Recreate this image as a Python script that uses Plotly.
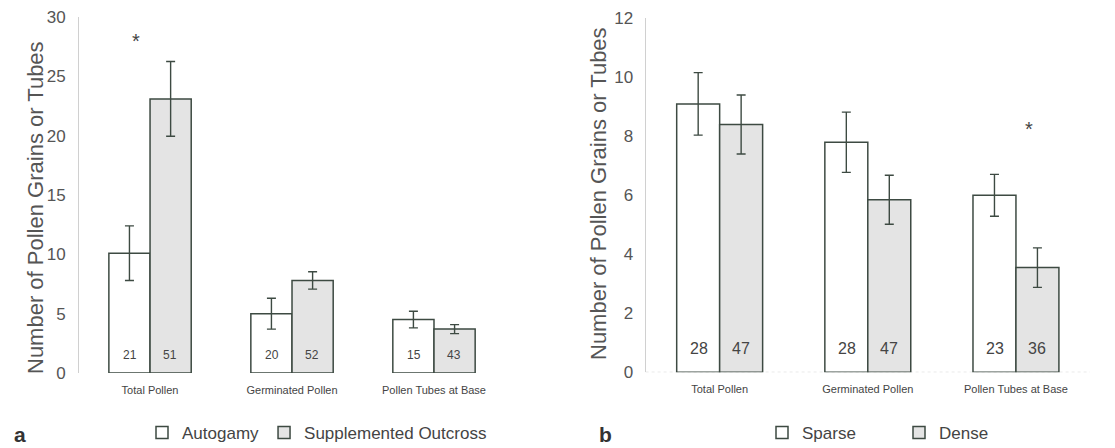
import plotly.graph_objects as go

# ---- data ----
cats = ["Total Pollen", "Germinated Pollen", "Pollen Tubes at Base"]

a_auto = [10.1, 5.0, 4.5]
a_auto_err = [2.3, 1.3, 0.7]
a_out = [23.1, 7.8, 3.7]
a_out_err = [3.15, 0.73, 0.38]
a_auto_n = [21, 20, 15]
a_out_n = [51, 52, 43]

b_sparse = [9.1, 7.8, 6.0]
b_sparse_err = [1.06, 1.02, 0.71]
b_dense = [8.4, 5.85, 3.55]
b_dense_err = [1.0, 0.83, 0.67]
b_sparse_n = [28, 28, 23]
b_dense_n = [47, 47, 36]

a_ticks = [0, 5, 10, 15, 20, 25, 30]
b_ticks = [0, 2, 4, 6, 8, 10, 12]

y_title = "Number of Pollen Grains or Tubes"

# ---- style ----
EDGE = "#3d4a42"
FILL2 = "#e4e4e4"
TXT = "#555555"
FONT = "Liberation Sans, Arial, sans-serif"

fig = go.Figure()

def add_bar(name, y, err, fill, xa, ya, legend):
    fig.add_trace(go.Bar(
        name=name, x=cats, y=y, xaxis=xa, yaxis=ya, legend=legend,
        marker=dict(color=fill, line=dict(color=EDGE, width=1.5)),
        error_y=dict(type="data", array=err, color=EDGE, thickness=1.4, width=4.5),
        hoverinfo="y+name",
    ))

add_bar("Autogamy", a_auto, a_auto_err, "white", "x", "y", "legend")
add_bar("Supplemented Outcross", a_out, a_out_err, FILL2, "x", "y", "legend")
add_bar("Sparse", b_sparse, b_sparse_err, "white", "x2", "y2", "legend2")
add_bar("Dense", b_dense, b_dense_err, FILL2, "x2", "y2", "legend2")

annotations = []
# sample sizes inside bars
for i, c in enumerate(cats):
    annotations.append(dict(x=c, y=1.5, xref="x", yref="y", text=str(a_auto_n[i]),
                            xshift=-20, showarrow=False, font=dict(size=12, color="#444")))
    annotations.append(dict(x=c, y=1.5, xref="x", yref="y", text=str(a_out_n[i]),
                            xshift=20, showarrow=False, font=dict(size=12, color="#444")))
    annotations.append(dict(x=c, y=0.8, xref="x2", yref="y2", text=str(b_sparse_n[i]),
                            xshift=-21, showarrow=False, font=dict(size=16, color="#444")))
    annotations.append(dict(x=c, y=0.8, xref="x2", yref="y2", text=str(b_dense_n[i]),
                            xshift=21, showarrow=False, font=dict(size=16, color="#444")))

# significance asterisks
annotations.append(dict(x=cats[0], y=28.0, xref="x", yref="y", text="*", xshift=-14,
                        showarrow=False, font=dict(size=20, color="#444")))
annotations.append(dict(x=cats[2], y=8.25, xref="x2", yref="y2", text="*", xshift=13,
                        showarrow=False, font=dict(size=20, color="#444")))

# y-axis titles
annotations.append(dict(x=35 / 1115, y=1 - 208 / 448, xref="paper", yref="paper", text=y_title,
                        textangle=-90, showarrow=False, xanchor="center", yanchor="middle",
                        font=dict(size=22, color=TXT)))
annotations.append(dict(x=598 / 1115, y=1 - 194 / 448, xref="paper", yref="paper", text=y_title,
                        textangle=-90, showarrow=False, xanchor="center", yanchor="middle",
                        font=dict(size=22, color=TXT)))

# panel letters
annotations.append(dict(x=12 / 1115, y=1 - 434 / 448, xref="paper", yref="paper", text="<b>a</b>",
                        xanchor="left", yanchor="middle", showarrow=False,
                        font=dict(size=21, color="#333")))
annotations.append(dict(x=597 / 1115, y=1 - 434 / 448, xref="paper", yref="paper", text="<b>b</b>",
                        xanchor="left", yanchor="middle", showarrow=False,
                        font=dict(size=21, color="#333")))

xcommon = dict(range=[-0.5, 2.5], showline=False, showgrid=False, zeroline=False,
               ticks="", tickfont=dict(size=11, color="#444"), ticklabelstandoff=9,
               fixedrange=True, automargin=False)
ycommon = dict(showline=True, linecolor="#d0d0d0", linewidth=1, showgrid=False, zeroline=False,
               ticks="", tickfont=dict(size=17, color=TXT), fixedrange=True, automargin=False)

fig.update_layout(
    width=1115, height=448,
    margin=dict(l=0, r=0, t=0, b=0, autoexpand=False),
    paper_bgcolor="white", plot_bgcolor="white",
    font=dict(family=FONT, color=TXT),
    barmode="group", bargap=0.42, bargroupgap=0,
    xaxis=dict(domain=[0.0709, 0.4529], anchor="y", **xcommon),
    yaxis=dict(domain=[0.1674, 0.962], anchor="x", range=[0, 30], tickvals=a_ticks,
               ticklabelstandoff=9, **ycommon),
    xaxis2=dict(domain=[0.579, 0.9776], anchor="y2", **xcommon),
    yaxis2=dict(domain=[0.169, 0.959], anchor="x2", range=[0, 12], tickvals=b_ticks,
                ticklabelstandoff=8, **ycommon),
    legend=dict(orientation="h", x=142 / 1115, y=1 - 433 / 448, xanchor="left", yanchor="middle",
                font=dict(size=17, color="#444"), itemwidth=30,
                bgcolor="rgba(0,0,0,0)", itemclick=False),
    legend2=dict(orientation="h", x=762 / 1115, y=1 - 433 / 448, xanchor="left", yanchor="middle",
                 font=dict(size=17, color="#444"), itemwidth=30, entrywidth=92,
                 entrywidthmode="pixels", bgcolor="rgba(0,0,0,0)", itemclick=False),
    annotations=annotations,
    shapes=[dict(type="line", xref="x2 domain", yref="y2", x0=0, x1=1, y0=0, y1=0,
                 line=dict(color="#cccccc", width=1, dash="dot"), layer="below")],
)

fig.write_html("out.html", config={"displayModeBar": False},
               post_script="document.body.style.margin='0';document.body.style.overflow='hidden';")
